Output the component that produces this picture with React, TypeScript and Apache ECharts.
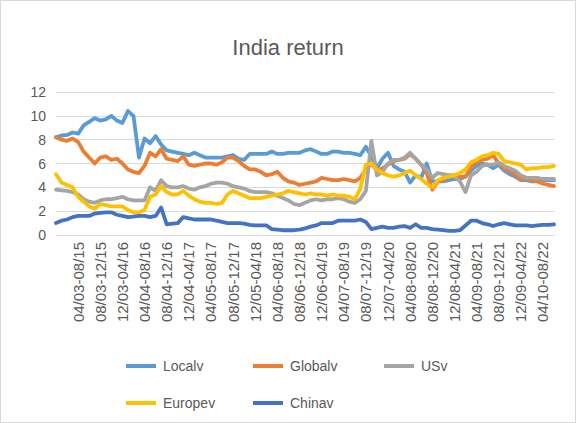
import React, { useEffect, useRef } from "react";
import * as echarts from "echarts";

// Rolling windows: start month/year - end month/year, monthly steps
const FIRST_START = { m: 12, y: 2 };
const FIRST_END = { m: 4, y: 15 };
const N_CATEGORIES = 91;

const pad = (n: number) => (n < 10 ? "0" + n : "" + n);
const shift = (p: { m: number; y: number }, k: number) => {
  const t = p.y * 12 + (p.m - 1) + k;
  return pad((t % 12) + 1) + "/" + pad(Math.floor(t / 12));
};
const categories: string[] = Array.from({ length: N_CATEGORIES }, (_, i) => shift(FIRST_START, i) + "-" + shift(FIRST_END, i));

const yTicks = { min: 0, max: 12, interval: 2 };

const localv = [
  8.2, 8.35, 8.4, 8.6, 8.5, 9.2, 9.5, 9.8, 9.6, 9.7,
  10.0, 9.6, 9.4, 10.4, 10.0, 6.5, 8.1, 7.7, 8.3, 7.6,
  7.1, 7.0, 6.9, 6.8, 6.7, 6.9, 6.7, 6.5, 6.5, 6.5,
  6.5, 6.6, 6.7, 6.4, 6.3, 6.8, 6.8, 6.8, 6.8, 7.0,
  6.8, 6.8, 6.9, 6.9, 6.9, 7.1, 7.2, 7.0, 6.8, 6.8,
  7.0, 7.0, 6.9, 6.9, 6.8, 6.7, 7.4, 6.6, 5.6, 6.4,
  6.9, 5.8, 5.5, 5.3, 4.4, 5.0, 4.8, 6.0, 4.5, 4.5,
  4.5, 4.6, 4.7, 4.7, 4.9, 5.4, 5.8, 6.0, 5.9, 5.6,
  5.9, 5.4, 5.1, 4.9, 4.6, 4.6, 4.5, 4.5, 4.6, 4.6,
  4.6,
];

const globalv = [
  8.2, 8.0, 7.9, 8.1, 7.8, 7.0, 6.5, 6.0, 6.5, 6.6,
  6.3, 6.4, 6.0, 5.5, 5.3, 5.2, 5.8, 6.9, 6.6, 7.2,
  6.4, 6.3, 6.2, 6.6, 5.9, 5.8, 5.9, 6.0, 6.0, 5.9,
  6.1, 6.5, 6.5, 6.2, 5.8, 5.5, 5.5, 5.3, 5.0, 5.1,
  5.3, 4.8, 4.5, 4.4, 4.2, 4.3, 4.4, 4.5, 4.8, 4.7,
  4.6, 4.6, 4.7, 4.6, 4.5, 4.8, 5.5, 6.0, 5.4, 5.6,
  5.9, 6.2, 6.3, 6.4, 6.8, 6.4, 5.9, 5.2, 3.8, 4.5,
  4.6, 5.0, 5.0, 4.9, 4.9, 5.7, 6.1, 6.3, 6.4, 6.7,
  6.0, 5.6, 5.4, 5.1, 4.7, 4.7, 4.6, 4.5, 4.3, 4.2,
  4.1,
];

const usv = [
  3.8, 3.75, 3.7, 3.6, 3.4, 3.0, 2.8, 2.7, 2.9, 3.0,
  3.0, 3.1, 3.2, 3.0, 2.9, 2.9, 2.9, 4.0, 3.7, 4.6,
  4.1, 4.0, 4.0, 4.1, 3.9, 3.8, 4.0, 4.1, 4.3, 4.4,
  4.4, 4.3, 4.1, 4.0, 3.9, 3.7, 3.6, 3.6, 3.6, 3.5,
  3.3, 3.1, 2.9, 2.6, 2.5, 2.7, 2.9, 3.0, 2.9, 3.0,
  3.0, 3.1, 3.0, 2.8, 2.7, 3.0, 3.7, 7.9, 5.0, 5.3,
  6.0, 6.3, 6.3, 6.5, 6.9, 6.4, 5.9, 5.5, 4.8, 5.2,
  5.1, 5.0, 4.9, 4.5, 3.6, 5.0, 5.3, 5.8, 5.9, 5.9,
  6.1, 5.8, 5.6, 5.4, 5.0, 4.8, 4.8, 4.8, 4.7, 4.7,
  4.7,
];

const europev = [
  5.1, 4.4, 4.2, 4.0, 3.2, 2.8, 2.4, 2.2, 2.6, 2.5,
  2.4, 2.4, 2.4, 2.1, 1.9, 1.9, 2.1, 3.2, 3.4, 4.1,
  3.6, 3.4, 3.4, 3.7, 3.3, 3.0, 2.8, 2.7, 2.7, 2.6,
  2.7, 3.4, 3.7, 3.5, 3.3, 3.1, 3.1, 3.1, 3.2, 3.3,
  3.4, 3.5, 3.7, 3.6, 3.5, 3.4, 3.5, 3.4, 3.4, 3.3,
  3.4, 3.3, 3.3, 3.2, 3.0, 3.9, 5.9, 6.0, 5.5, 5.2,
  5.0, 4.9, 5.0, 5.2, 5.4, 5.0, 4.7, 4.3, 4.0, 4.6,
  4.8, 4.9, 5.0, 5.2, 5.5, 6.1, 6.3, 6.6, 6.7, 6.9,
  6.8, 6.2, 6.1, 6.0, 5.9, 5.5, 5.6, 5.6, 5.7, 5.7,
  5.8,
];

const chinav = [
  1.0, 1.2, 1.3, 1.5, 1.6, 1.6, 1.6, 1.8, 1.85, 1.9,
  1.9, 1.7, 1.6, 1.5, 1.55, 1.6, 1.6, 1.5, 1.6, 2.3,
  0.9, 0.95, 1.0, 1.5, 1.4, 1.3, 1.3, 1.3, 1.3, 1.2,
  1.1, 1.0, 1.0, 1.0, 0.95, 0.85, 0.8, 0.8, 0.8, 0.5,
  0.45, 0.4, 0.4, 0.4, 0.45, 0.55, 0.7, 0.8, 1.0, 1.0,
  1.0, 1.2, 1.2, 1.2, 1.2, 1.3, 1.1, 0.5, 0.6, 0.7,
  0.6, 0.6, 0.7, 0.75, 0.6, 0.9, 0.6, 0.6, 0.5, 0.45,
  0.4, 0.35, 0.35, 0.4, 0.8, 1.2, 1.2, 1.0, 0.9, 0.75,
  0.9, 1.0, 0.9, 0.8, 0.8, 0.8, 0.75, 0.8, 0.85, 0.85,
  0.9,
];

const seriesNames = ["Localv", "Globalv", "USv", "Europev", "Chinav"];
const seriesData = [localv, globalv, usv, europev, chinav];
const colors = ["#5B9BD5", "#ED7D31", "#A5A5A5", "#FFC000", "#4472C4"];

const FONT = "'Liberation Sans', Arial, sans-serif";
const TEXT = "#595959";

export default function App() {
  const ref = useRef<HTMLDivElement>(null);
  useEffect(() => {
    if (!ref.current) return;
    const chart = echarts.init(ref.current, undefined, { renderer: "svg" });
    const legendPos = [
      { left: 120, top: 353 },
      { left: 247, top: 353 },
      { left: 378, top: 353 },
      { left: 120, top: 390 },
      { left: 247, top: 390 },
    ];
    chart.setOption({
      animation: false,
      color: colors,
      textStyle: { fontFamily: FONT },
      title: {
        text: "India return",
        left: "center",
        top: 30,
        textStyle: { fontSize: 22, fontWeight: "normal", color: TEXT, fontFamily: FONT },
      },
      legend: seriesNames.map((n, i) => ({
        data: [{ name: n, icon: "rect" }],
        left: legendPos[i].left,
        top: legendPos[i].top,
        itemWidth: 30,
        itemHeight: 4,
        itemGap: 0,
        selectedMode: false,
        textStyle: { fontSize: 14, color: TEXT, fontFamily: FONT, padding: [0, 0, 0, 2] },
      })),
      grid: { left: 55, top: 91, width: 498, height: 143, containLabel: false },
      xAxis: {
        type: "category",
        data: categories,
        boundaryGap: false,
        axisLine: { lineStyle: { color: "#D9D9D9", width: 1 } },
        axisTick: { show: false },
        axisLabel: {
          rotate: 90,
          interval: (index: number) => index > 0 && index % 4 === 0,
          fontSize: 15,
          color: TEXT,
          fontFamily: FONT,
          margin: 7,
        },
      },
      yAxis: {
        type: "value",
        min: yTicks.min,
        max: yTicks.max,
        interval: yTicks.interval,
        axisLine: { show: false },
        axisTick: { show: false },
        axisLabel: { fontSize: 14, color: TEXT, fontFamily: FONT, margin: 10 },
        splitLine: { lineStyle: { color: "#D9D9D9", width: 1 } },
      },
      series: seriesNames.map((n, i) => ({
        name: n,
        type: "line",
        data: seriesData[i],
        showSymbol: false,
        symbol: "none",
        lineStyle: { width: 3.8, color: colors[i], cap: "round", join: "round" },
        itemStyle: { color: colors[i] },
      })),
    });
    return () => chart.dispose();
  }, []);
  return (
    <div
      style={{
        position: "fixed",
        left: 0,
        top: 0,
        width: 576,
        height: 423,
        boxSizing: "border-box",
        border: "1px solid #D9D9D9",
        background: "#fff",
      }}
    >
      <div ref={ref} style={{ width: 574, height: 421 }} />
    </div>
  );
}
